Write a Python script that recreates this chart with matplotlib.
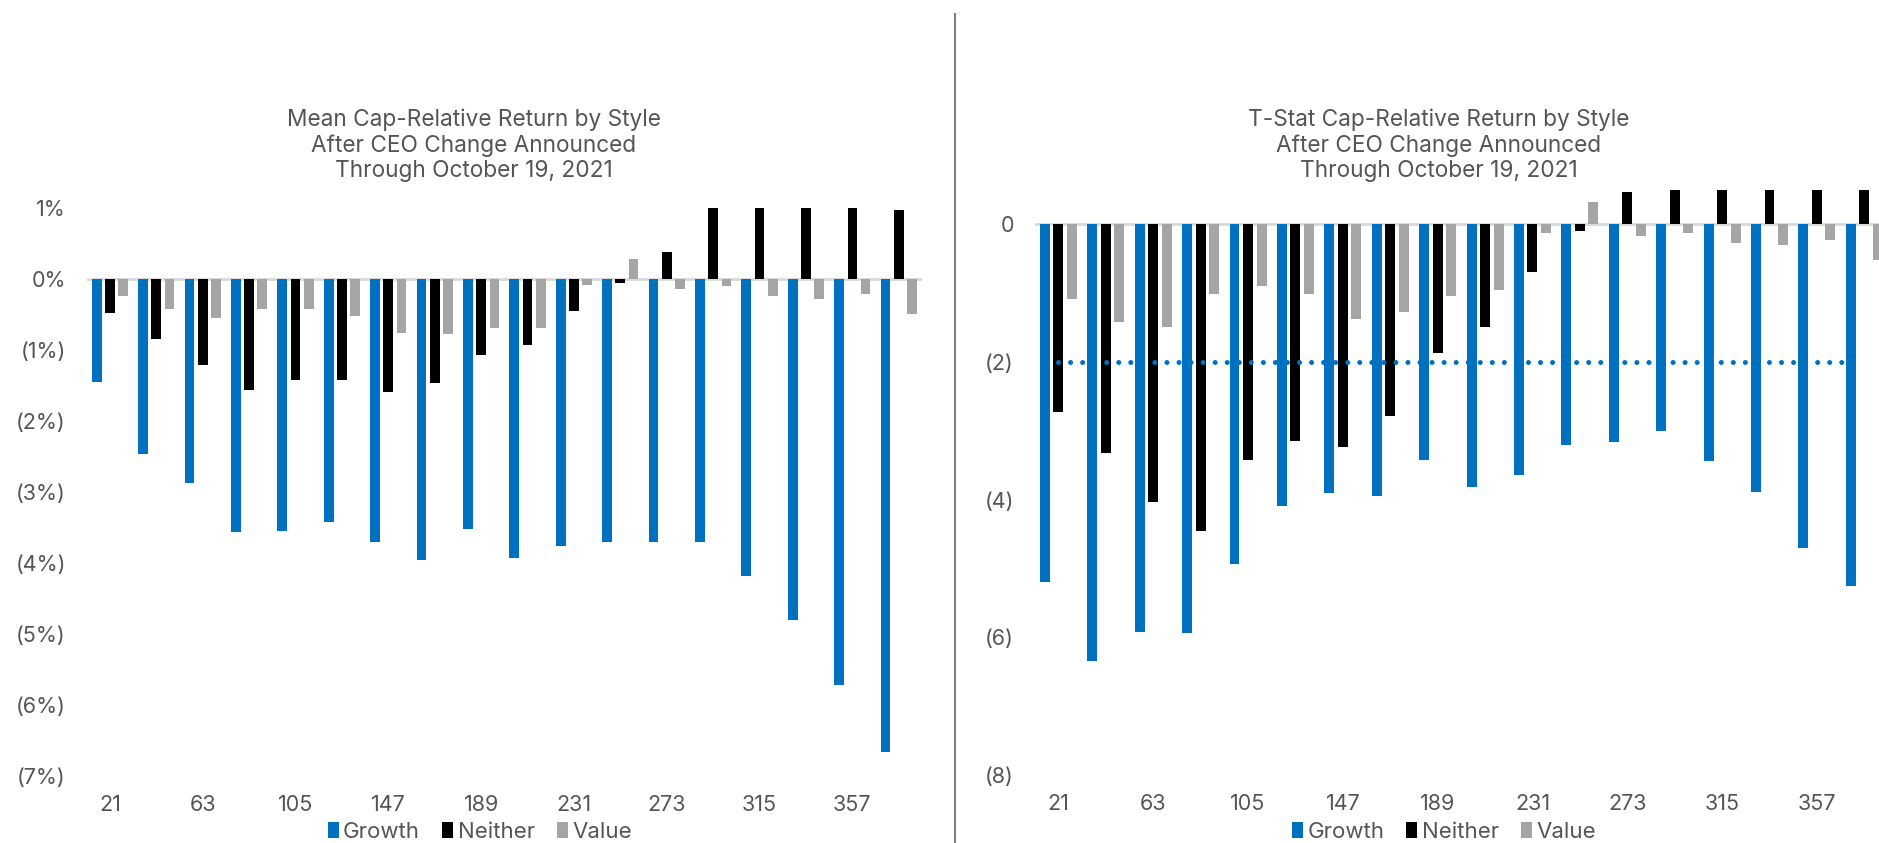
import numpy as np
import matplotlib.pyplot as plt

plt.rcParams['font.family'] = ['Inter', 'DejaVu Sans']

# holding period in trading days
days = [21, 42, 63, 84, 105, 126, 147, 168, 189, 210, 231, 252, 273, 294, 315, 336, 357, 378]

# mean cap-relative return, percent
mean_growth = [-1.46, -2.47, -2.88, -3.57, -3.55, -3.43, -3.71, -3.96, -3.53, -3.93,
               -3.76, -3.70, -3.71, -3.70, -4.19, -4.80, -5.72, -6.66]
mean_neither = [-0.48, -0.85, -1.21, -1.57, -1.42, -1.43, -1.60, -1.47, -1.08, -0.93,
                -0.45, -0.06, 0.37, 1.04, 1.06, 1.02, 1.00, 0.97]
mean_value = [-0.24, -0.43, -0.55, -0.43, -0.42, -0.53, -0.77, -0.78, -0.69, -0.69,
              -0.09, 0.28, -0.14, -0.10, -0.24, -0.28, -0.22, -0.50]

# t-statistics of the same returns
t_growth = [-5.20, -6.35, -5.93, -5.94, -4.94, -4.09, -3.90, -3.95, -3.43, -3.82,
            -3.64, -3.21, -3.16, -3.01, -3.44, -3.89, -4.70, -5.25]
t_neither = [-2.73, -3.33, -4.03, -4.46, -3.43, -3.15, -3.23, -2.79, -1.87, -1.49,
             -0.69, -0.10, 0.47, 1.25, 1.20, 1.15, 1.10, 1.05]
t_value = [-1.09, -1.42, -1.49, -1.01, -0.90, -1.02, -1.38, -1.27, -1.04, -0.95,
           -0.13, 0.32, -0.17, -0.13, -0.27, -0.30, -0.23, -0.52]

T_CRIT = -2

styles = ['Growth', 'Neither', 'Value']
colors = ['#0070C0', '#000000', '#A5A5A5']
TEXT = '#555555'

W, H = 1879, 843
fig = plt.figure(figsize=(W / 100, H / 100), dpi=100)


def px_axes(left, right, top, bottom):
    return fig.add_axes([left / W, 1 - bottom / H, (right - left) / W, (bottom - top) / H])


def bar_panel(ax, series, ylim, yticks, ylabels):
    x = np.arange(len(days))
    width, offset = 0.21, 0.285
    for k, (vals, col, name) in enumerate(zip(series, colors, styles)):
        ax.bar(x + (k - 1) * offset, vals, width, color=col, label=name, zorder=3)
    ax.axhline(0, color='#D9D9D9', lw=2, zorder=2)
    ax.set_xlim(-0.5, len(days) - 0.5)
    ax.set_ylim(*ylim)
    ax.set_xticks(x[::2])
    ax.set_xticklabels([str(d) for d in days[::2]])
    ax.set_yticks(yticks)
    ax.set_yticklabels(ylabels)
    ax.tick_params(length=0, labelsize=15.5, labelcolor=TEXT)
    ax.tick_params(axis='y', pad=15)
    ax.tick_params(axis='x', pad=14)
    for s in ax.spines.values():
        s.set_visible(False)


# left: mean returns
ax1 = px_axes(86.7, 922, 207.7, 776)
mticks = list(range(1, -8, -1))
mlabels = ['%d%%' % v if v >= 0 else '(%d%%)' % -v for v in mticks]
bar_panel(ax1, [mean_growth, mean_neither, mean_value], (-7, 1), mticks, mlabels)

# right: t-stats, axis runs a little past the figure edge
ax2 = px_axes(1034.7, 1888, 189.8, 775)
tticks = [0, -2, -4, -6, -8]
tlabels = ['0' if v == 0 else '(%d)' % -v for v in tticks]
bar_panel(ax2, [t_growth, t_neither, t_value], (-8, 0.5), tticks, tlabels)
ax2.plot([0, len(days) - 1.25], [T_CRIT, T_CRIT], color='#0070C0', lw=3.6,
         dashes=(0.01, 2.4), dash_capstyle='round', zorder=4)

titles = ['Mean Cap-Relative Return by Style', 'T-Stat Cap-Relative Return by Style']
for cx, t in zip([474, 1439], titles):
    fig.text(cx / W, 1 - 145 / H, t + '\nAfter CEO Change Announced\nThrough October 19, 2021',
             ha='center', va='center', fontsize=16.3, color=TEXT, linespacing=1.2)

for ax, cx in [(ax1, 480), (ax2, 1444)]:
    h, l = ax.get_legend_handles_labels()
    fig.legend(h, l, loc='center', bbox_to_anchor=(cx / W, 1 - 832 / H), ncol=3,
               frameon=False, fontsize=16, labelcolor=TEXT, handlelength=0.5,
               handleheight=0.75, handletextpad=0.2, columnspacing=1.0)

# divider between the two panels
fig.add_artist(plt.Line2D([955 / W, 955 / W], [0, 1 - 14 / H], color='#808080', lw=1.5))

fig.savefig('out.png', dpi=100)
